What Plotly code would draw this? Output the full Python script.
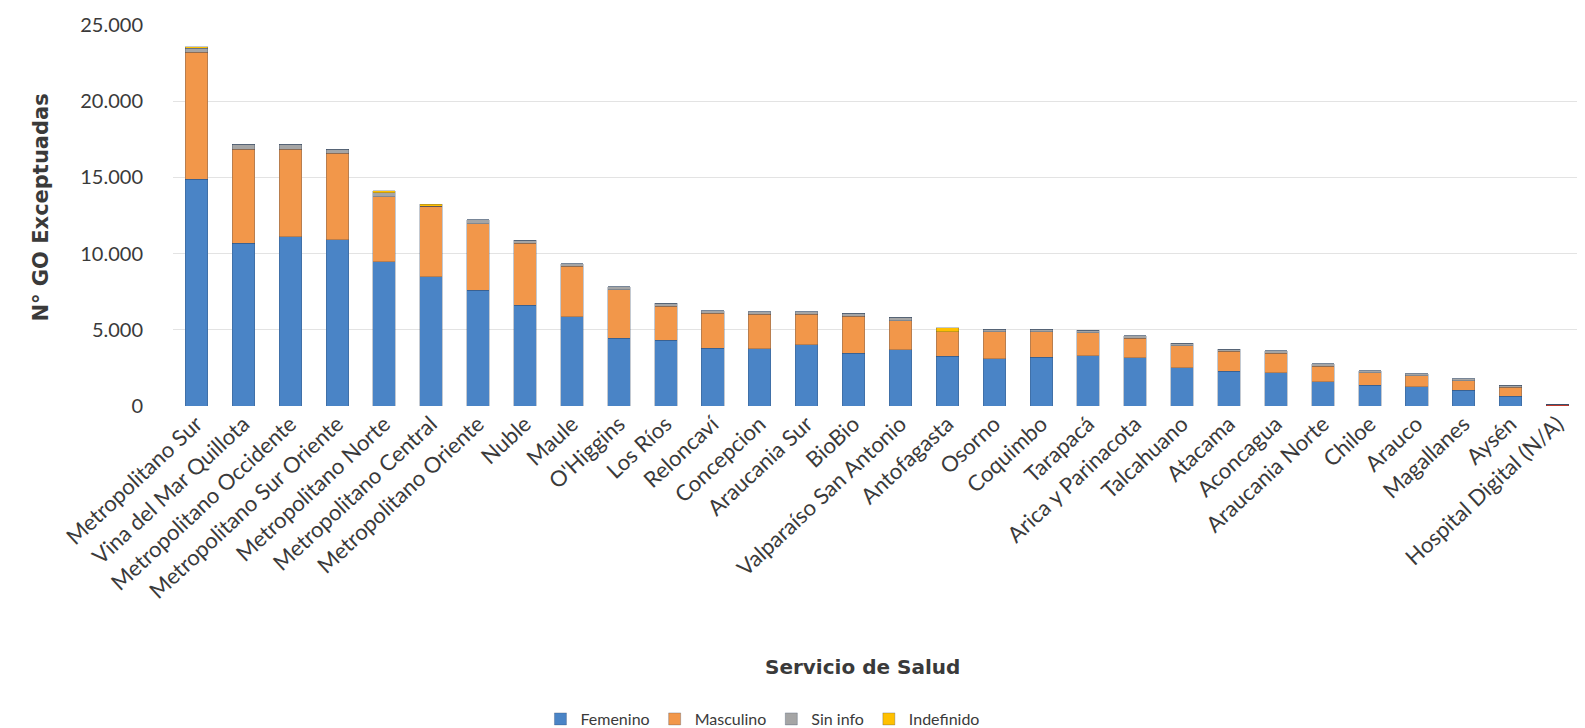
import plotly.graph_objects as go

categories = ["Metropolitano Sur", "Vina del Mar Quillota", "Metropolitano Occidente",
              "Metropolitano Sur Oriente", "Metropolitano Norte", "Metropolitano Central",
              "Metropolitano Oriente", "Nuble", "Maule", "O'Higgins", "Los Ríos", "Reloncaví",
              "Concepcion", "Araucania Sur", "BioBio", "Valparaíso San Antonio", "Antofagasta",
              "Osorno", "Coquimbo", "Tarapacá", "Arica y Parinacota", "Talcahuano", "Atacama",
              "Aconcagua", "Araucania Norte", "Chiloe", "Arauco", "Magallanes", "Aysén",
              "Hospital Digital (N/A)"]

femenino = [14870, 10680, 11120, 10900, 9470, 8480, 7600, 6610, 5860, 4450, 4300, 3800,
            3750, 4010, 3470, 3690, 3260, 3100, 3210, 3300, 3150, 2500, 2280, 2170, 1580,
            1350, 1260, 1040, 650, 80]
masculino = [8330, 6170, 5730, 5690, 4250, 4630, 4360, 4070, 3300, 3190, 2250, 2280,
             2280, 2020, 2430, 1910, 1620, 1780, 1670, 1500, 1300, 1450, 1300, 1300, 1020,
             820, 740, 630, 590, 0]
sin_info = [260, 330, 330, 260, 270, 0, 270, 180, 170, 170, 180, 170, 150, 150, 180, 220,
            0, 150, 150, 160, 150, 170, 150, 150, 160, 150, 130, 110, 130, 0]
indefinido = [120, 0, 0, 0, 120, 130, 0, 0, 0, 0, 0, 0, 0, 0, 0, 0, 250, 0, 0, 0, 0, 0,
              0, 0, 0, 0, 0, 0, 0, 0]

series_names = ["Femenino", "Masculino", "Sin info", "Indefinido"]
series_colors = ["#4a84c6", "#f2974a", "#a5a5a5", "#ffc000"]
special_color = "#c0392b"

fem_colors = [series_colors[0]] * (len(categories) - 1) + [special_color]

fig = go.Figure()
for name, vals, col in zip(series_names, [femenino, masculino, sin_info, indefinido], series_colors):
    mc = fem_colors if name == "Femenino" else col
    fig.add_trace(go.Bar(
        x=categories, y=vals, name=name,
        marker=dict(color=mc, line=dict(color="rgba(40,60,90,0.35)", width=0.8)),
    ))

fig.update_layout(
    barmode="stack",
    bargap=0.52,
    width=1585, height=728,
    paper_bgcolor="white", plot_bgcolor="white",
    separators=",.",
    margin=dict(l=165, r=12, t=4, b=330),
    font=dict(family="Lato, 'Open Sans', sans-serif", color="#3a3a3a"),
    legend=dict(orientation="h", xref="container", x=0.476, xanchor="center",
                yref="container", y=0.0, yanchor="bottom",
                font=dict(size=16, color="#3a3a3a"), traceorder="normal",
                itemwidth=30, borderwidth=0, bgcolor="rgba(0,0,0,0)"),
    showlegend=True,
)
fig.update_yaxes(
    range=[0, 25000], dtick=5000, tickformat=",.0f",
    showgrid=True, gridcolor="#e3e3e3", gridwidth=1,
    zeroline=False, showline=False,
    tickfont=dict(size=20, color="#3a3a3a"),
    ticklabelstandoff=29, ticklabeloverflow="allow",
)
fig.update_xaxes(
    tickangle=-43, tickfont=dict(size=22, color="#3a3a3a"),
    showline=False, showgrid=False, ticks="", automargin=False,
)
fig.add_annotation(text="<b>N° GO Exceptuadas</b>", xref="paper", yref="paper",
                   x=-0.094, xanchor="center", y=0.52, yanchor="middle",
                   textangle=-90, showarrow=False,
                   font=dict(family="DejaVu Sans", size=21, color="#3a3a3a"))
fig.add_annotation(text="<b>Servicio de Salud</b>", xref="paper", yref="paper",
                   x=0.49, xanchor="center", y=-0.684, yanchor="middle", showarrow=False,
                   font=dict(family="DejaVu Sans", size=20, color="#3a3a3a"))

fig.write_html("out.html")
